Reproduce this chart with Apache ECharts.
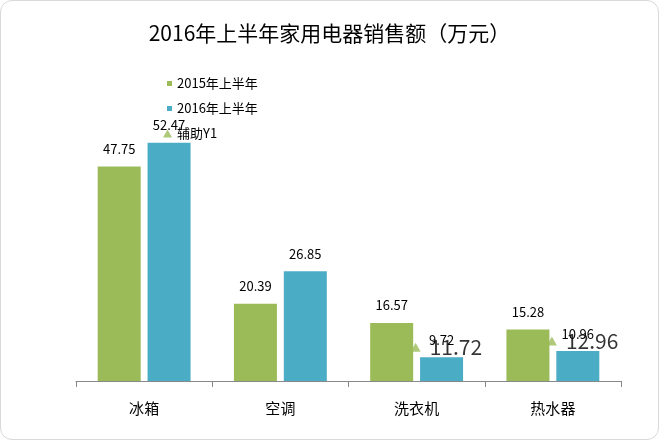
<!DOCTYPE html>
<html><head><meta charset="utf-8">
<script src="https://cdn.jsdelivr.net/npm/echarts@6/dist/echarts.min.js"></script>
<style>
html,body{margin:0;padding:0;background:#fff;}
#c{position:absolute;left:0;top:0;width:657px;height:438px;border:1px solid #d9d9d9;border-radius:12px;overflow:hidden;}
</style></head>
<body><div id="c"></div>
<script>
const categories = ['冰箱', '空调', '洗衣机', '热水器'];
const sales2015 = [47.75, 20.39, 16.57, 15.28];
const sales2016 = [52.47, 26.85, 9.72, 10.96];
const helperY1 = [null, null, 11.72, 12.96];
const seriesNames = ['2015年上半年', '2016年上半年', '辅助Y1'];
const titleText = '2016年上半年家用电器销售额（万元）';

const FONT = '"Noto Sans CJK SC", "Noto Sans", sans-serif';
const chart = echarts.init(document.getElementById('c'));
const legendText = { fontSize: 13, color: '#000', fontFamily: FONT };
chart.setOption({
  animation: false,
  textStyle: { fontFamily: FONT },
  title: {
    text: titleText, left: 'center', top: 17,
    textStyle: { fontSize: 21, fontWeight: 'normal', color: '#000', fontFamily: FONT }
  },
  legend: [
    {
      orient: 'vertical', left: 161, top: 71, itemWidth: 5, itemHeight: 5, itemGap: 12,
      textStyle: legendText,
      data: [
        { name: seriesNames[0], icon: 'rect' },
        { name: seriesNames[1], icon: 'rect' }
      ]
    },
    {
      orient: 'vertical', left: 157, top: 121, itemWidth: 9, itemHeight: 8,
      textStyle: legendText,
      data: [{ name: seriesNames[2], icon: 'triangle' }]
    }
  ],
  grid: { left: 75, right: 37, top: 104, bottom: 58 },
  xAxis: {
    type: 'category', data: categories, boundaryGap: true,
    axisLine: { lineStyle: { color: '#888', width: 1 } },
    axisTick: { show: true, length: 6, lineStyle: { color: '#888' } },
    axisLabel: { fontSize: 15, color: '#000', margin: 20, fontFamily: FONT }
  },
  yAxis: {
    type: 'value', min: 5, max: 60, show: false, splitLine: { show: false }
  },
  series: [
    {
      name: seriesNames[0], type: 'bar', data: sales2015, barWidth: 43, barGap: '16%', z: 3,
      itemStyle: { color: '#9BBB59' },
      label: { show: true, position: 'top', distance: 11, fontSize: 13, color: '#000', fontFamily: FONT }
    },
    {
      name: seriesNames[1], type: 'bar', data: sales2016, barWidth: 43, z: 3,
      itemStyle: { color: '#4BACC6' },
      label: { show: true, position: 'top', distance: 11, fontSize: 13, color: '#000', fontFamily: FONT }
    },
    {
      name: seriesNames[2], type: 'scatter', data: helperY1, z: 1,
      symbol: 'triangle', symbolSize: [10, 9], symbolOffset: [-1, 0],
      itemStyle: { color: '#9BBB59' },
      label: { show: true, position: 'right', distance: 9, fontSize: 21, color: '#000', fontFamily: FONT }
    }
  ]
});
</script></body></html>
